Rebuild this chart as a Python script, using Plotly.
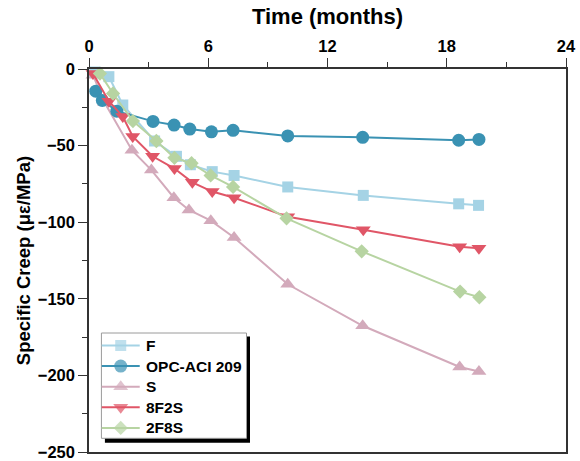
import plotly.graph_objects as go

# Specific creep vs. time for each binder mix
F_months = [0.3, 1.0, 1.7, 3.3, 4.4, 5.1, 6.2, 7.3, 10.0, 13.8, 18.6, 19.6]
F_vals = [-2, -5, -23.5, -47, -57, -62.5, -67, -69.5, -77, -82.5, -88, -89]

OPC_months = [0.34, 0.67, 1.4, 3.22, 4.28, 5.07, 6.16, 7.25, 10.0, 13.77, 18.6, 19.62]
OPC_vals = [-14.5, -20.5, -27.5, -34.2, -36.6, -39.2, -41, -40, -43.7, -44.6, -46.5, -46]

S_months = [0.2, 0.79, 2.16, 3.14, 4.27, 5.03, 6.13, 7.3, 10.0, 13.77, 18.65, 19.62]
S_vals = [-4, -22, -53, -66, -84, -92, -99, -110, -140.5, -167.6, -194.5, -197.5]

F8S2_months = [0.2, 1.0, 1.7, 2.2, 3.2, 4.3, 5.2, 6.2, 7.3, 10.0, 13.8, 18.65, 19.62]
F8S2_vals = [-3, -21, -31, -44, -57, -65, -74, -80, -84, -96.5, -105, -116, -117]

F2S8_months = [0.55, 1.21, 2.21, 3.39, 4.3, 5.16, 6.12, 7.25, 9.94, 13.72, 18.67, 19.64]
F2S8_vals = [-3, -16, -34, -47, -58, -61.5, -69.5, -77, -97.5, -119, -145.3, -149]

x_ticks = [0, 6, 12, 18, 24]
y_ticks = [0, -50, -100, -150, -200, -250]

FONT = "Liberation Sans"
AXIS_COLOR = "#333333"

series = {
    # name: (x, y, colour, symbol, size)
    "F": (F_months, F_vals, "#a5d3e5", "square", 11),
    "OPC-ACI 209": (OPC_months, OPC_vals, "#3a92b3", "circle", 13),
    "S": (S_months, S_vals, "#d3aabb", "triangle-up", 13),
    "8F2S": (F8S2_months, F8S2_vals, "#e05667", "triangle-down", 13),
    "2F8S": (F2S8_months, F2S8_vals, "#b7d4a2", "diamond", 11),
}
legend_order = ["F", "OPC-ACI 209", "S", "8F2S", "2F8S"]
draw_order = ["S", "F", "OPC-ACI 209", "8F2S", "2F8S"]

fig = go.Figure()
for name in draw_order:
    xs, ys, color, symbol, size = series[name]
    fig.add_trace(go.Scatter(
        x=xs, y=ys, name=name, mode="lines+markers",
        line=dict(color=color, width=2),
        marker=dict(symbol=symbol, size=size, color=color, line=dict(width=0)),
        showlegend=False, cliponaxis=False,
    ))

# Legend drawn on an invisible overlay axis measured in pixels of the plot area
PX_LEFT, PX_RIGHT, PX_TOP, PX_BOTTOM = 89.3, 566.0, 69.0, 452.0
box_x0, box_x1, box_y0, box_y1 = 101.7, 246.7, 333.0, 438.3
key_x0, key_x1, text_x = 102.0, 140.0, 144.5
row_y0, row_step = 345.5, 20.6

fig.add_shape(type="rect", xref="x2", yref="y2",
              x0=box_x0 + 3.5, x1=box_x1 + 3.5, y0=box_y0 + 3.5, y1=box_y1 + 4.5,
              fillcolor="black", line=dict(width=0), layer="below")
fig.add_shape(type="rect", xref="x2", yref="y2",
              x0=box_x0, x1=box_x1, y0=box_y0, y1=box_y1,
              fillcolor="white", line=dict(color="#9a9a9a", width=1), layer="below")

for i, name in enumerate(legend_order):
    _, _, color, symbol, size = series[name]
    ry = row_y0 + i * row_step
    fig.add_trace(go.Scatter(
        x=[key_x0, (key_x0 + key_x1) / 2, key_x1], y=[ry, ry, ry],
        xaxis="x2", yaxis="y2", mode="lines+markers",
        line=dict(color=color, width=2),
        marker=dict(symbol=symbol, size=[0, size, 0], color=color, line=dict(width=0)),
        showlegend=False, hoverinfo="skip", cliponaxis=False,
    ))
    fig.add_annotation(
        x=text_x, y=ry, xref="x2", yref="y2", text=name, showarrow=False,
        xanchor="left", yanchor="middle",
        font=dict(family=FONT, size=15.5, color="black", weight="bold"),
    )

axis_common = dict(
    showline=True, linecolor=AXIS_COLOR, linewidth=1.5, mirror=True,
    ticks="outside", ticklen=9, tickwidth=1.3, tickcolor=AXIS_COLOR,
    showgrid=False, zeroline=False, automargin=False, ticklabeloverflow="allow",
    tickfont=dict(family=FONT, size=16.5, color="black", weight="bold"),
)
minor_common = dict(ticks="outside", ticklen=5, tickcolor=AXIS_COLOR, tickwidth=1.3)

fig.update_layout(
    width=580, height=461,
    margin=dict(l=89, r=14, t=69, b=9),
    paper_bgcolor="white", plot_bgcolor="white",
    showlegend=False,
    xaxis=dict(
        side="top", range=[0, 24], tickvals=x_ticks,
        minor=dict(dtick=3, **minor_common),
        title=dict(text="Time (months)", font=dict(family=FONT, size=22, color="black", weight="bold"), standoff=6),
        **axis_common,
    ),
    yaxis=dict(
        range=[-250, 0], tickvals=y_ticks,
        minor=dict(dtick=25, **minor_common),
        title=dict(text="Specific Creep (με/MPa)", font=dict(family=FONT, size=18.5, color="black", weight="bold"), standoff=2),
        **axis_common,
    ),
    xaxis2=dict(overlaying="x", range=[PX_LEFT, PX_RIGHT], visible=False, fixedrange=True),
    yaxis2=dict(overlaying="y", range=[PX_BOTTOM, PX_TOP], visible=False, fixedrange=True),
)

fig.write_html("out.html")
